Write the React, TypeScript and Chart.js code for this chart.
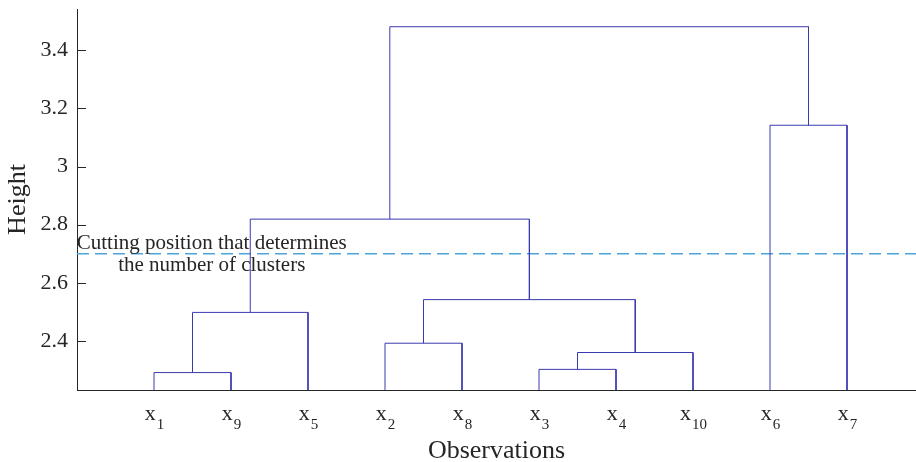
import React, { useEffect, useRef } from 'react';
import { Chart, registerables } from 'chart.js';
Chart.register(...registerables);

// Leaves in dendrogram order (subscript numbers of x_i)
const leafLabels = ['1', '9', '5', '2', '8', '3', '4', '10', '6', '7'];
const leafPositions = [1, 2, 3, 4, 5, 6, 7, 8, 9, 10];
// Linkage: node ids 0..9 are leaves (by position), new clusters get ids 10, 11, ...
const mergeLeft = [0, 5, 11, 3, 10, 13, 14, 8, 16];
const mergeRight = [1, 6, 7, 4, 2, 12, 15, 9, 17];
const mergeHeights = [2.291, 2.302, 2.36, 2.392, 2.498, 2.542, 2.819, 3.142, 3.481];
const cutHeight = 2.7;
const cutLabel = ['Cutting position that determines', 'the number of clusters'];
const cutLabelX = 1.75;
const yTicks = [2.4, 2.6, 2.8, 3.0, 3.2, 3.4];
const yMin = 2.231;
const yMax = 3.542;
const xMin = 0;
const xMax = 10.896;

const FONT = "'Liberation Serif', 'Times New Roman', serif";
const TEXT = '#262626';
const LINK = '#3a3ab0';

export default function App() {
  const ref = useRef<HTMLCanvasElement | null>(null);
  useEffect(() => {
    if (!ref.current) return;
    const nodeX: number[] = [...leafPositions];
    const nodeY: number[] = leafPositions.map(() => yMin);
    const datasets: any[] = [];
    mergeLeft.forEach((l, i) => {
      const r = mergeRight[i];
      const h = mergeHeights[i];
      datasets.push({
        data: [
          { x: nodeX[l], y: nodeY[l] },
          { x: nodeX[l], y: h },
          { x: nodeX[r], y: h },
          { x: nodeX[r], y: nodeY[r] },
        ],
        borderColor: LINK,
        borderWidth: 1,
        pointRadius: 0,
        showLine: true,
        tension: 0,
        fill: false,
      });
      nodeX.push((nodeX[l] + nodeX[r]) / 2);
      nodeY.push(h);
    });
    datasets.push({
      data: [
        { x: xMin, y: cutHeight },
        { x: xMax, y: cutHeight },
      ],
      borderColor: '#4ea3dc',
      borderWidth: 1.4,
      borderDash: [12, 6],
      pointRadius: 0,
      showLine: true,
      fill: false,
    });

    const decor = {
      id: 'decor',
      afterDraw(chart: any) {
        const ctx = chart.ctx;
        const xs = chart.scales.x;
        const ys = chart.scales.y;
        ctx.save();
        // inward y ticks
        ctx.strokeStyle = TEXT;
        ctx.lineWidth = 1;
        yTicks.forEach((t) => {
          const py = Math.round(ys.getPixelForValue(t)) + 0.5;
          ctx.beginPath();
          ctx.moveTo(xs.left, py);
          ctx.lineTo(xs.left + 9, py);
          ctx.stroke();
        });
        // leaf labels x_i
        ctx.fillStyle = TEXT;
        ctx.textBaseline = 'alphabetic';
        ctx.textAlign = 'left';
        leafLabels.forEach((lab, i) => {
          const px = xs.getPixelForValue(leafPositions[i]);
          ctx.font = `22px ${FONT}`;
          const wx = ctx.measureText('x').width;
          ctx.font = `15px ${FONT}`;
          const ws = ctx.measureText(lab).width;
          const start = px - (wx + ws) / 2;
          ctx.font = `22px ${FONT}`;
          ctx.fillText('x', start, 420);
          ctx.font = `15px ${FONT}`;
          ctx.fillText(lab, start + wx + 1, 429);
        });
        // cut annotation
        const cy = ys.getPixelForValue(cutHeight);
        const cx = xs.getPixelForValue(cutLabelX);
        ctx.font = `21px ${FONT}`;
        ctx.textAlign = 'center';
        ctx.fillText(cutLabel[0], cx, cy - 5);
        ctx.fillText(cutLabel[1], cx, cy + 17.5);
        ctx.restore();
      },
    };

    const chart = new Chart(ref.current, {
      type: 'scatter',
      data: { datasets },
      options: {
        animation: false,
        responsive: false,
        devicePixelRatio: 1,
        layout: { padding: { top: 9, right: 0, left: 0, bottom: 0 } },
        plugins: { legend: { display: false }, tooltip: { enabled: false } },
        scales: {
          x: {
            type: 'linear',
            min: xMin,
            max: xMax,
            grid: { display: false },
            border: { display: true, color: TEXT, width: 1 },
            ticks: { display: false },
            title: {
              display: true,
              text: 'Observations',
              color: TEXT,
              font: { family: FONT, size: 26, lineHeight: 0.85 },
              padding: { top: 0, bottom: 0 },
            },
            afterFit(scale: any) {
              scale.height = 72;
              scale.paddingLeft = 0;
              scale.paddingRight = 0;
            },
          },
          y: {
            type: 'linear',
            min: yMin,
            max: yMax,
            grid: { display: false, drawTicks: false },
            border: { display: true, color: TEXT, width: 1 },
            afterBuildTicks(scale: any) {
              scale.ticks = yTicks.map((v) => ({ value: v }));
            },
            ticks: {
              padding: 9,
              color: TEXT,
              font: { family: FONT, size: 22 },
              callback: (v: any) => String(Number(Number(v).toFixed(1))),
            },
            title: {
              display: true,
              text: 'Height',
              color: TEXT,
              font: { family: FONT, size: 26 },
              padding: { top: 3, bottom: 0 },
            },
            afterFit(scale: any) {
              scale.width = 77;
              scale.paddingTop = 0;
              scale.paddingBottom = 0;
            },
          },
        },
      },
      plugins: [decor],
    });
    return () => chart.destroy();
  }, []);
  return (
    <div style={{ position: 'absolute', left: 0, top: 0, width: 916, height: 462, background: '#fff' }}>
      <canvas ref={ref} width={916} height={462} />
    </div>
  );
}
